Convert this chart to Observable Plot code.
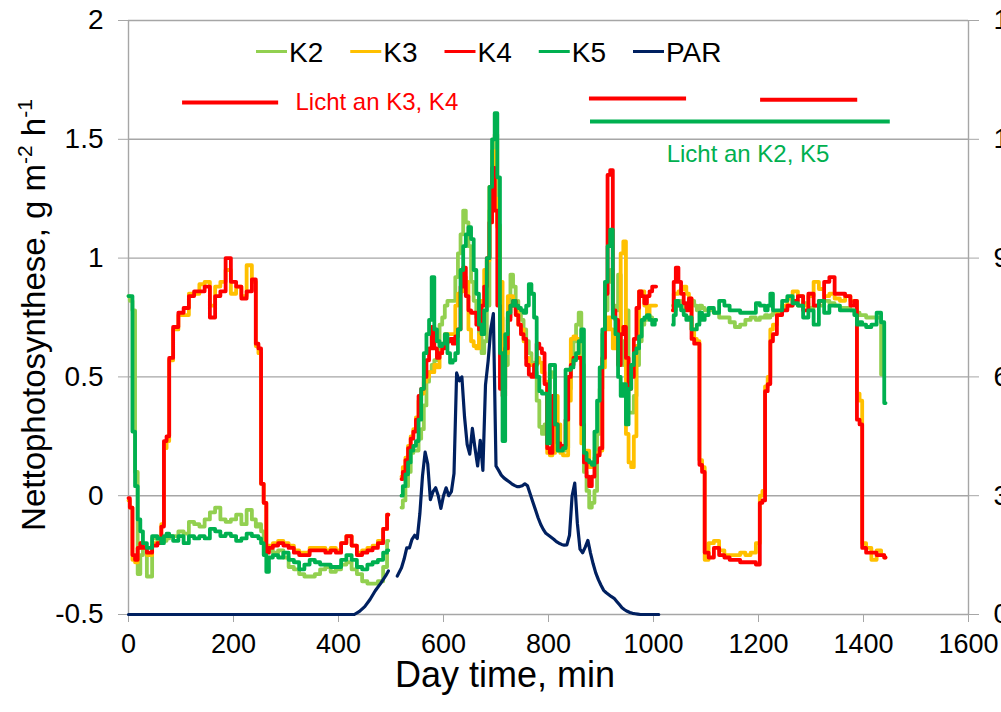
<!DOCTYPE html>
<html><head><meta charset="utf-8">
<script src="https://cdn.jsdelivr.net/npm/d3@7"></script>
<script src="https://cdn.jsdelivr.net/npm/@observablehq/plot@0.6"></script>
<style>
html,body{margin:0;padding:0;overflow:hidden;background:#fff;}
#chart{position:relative;width:1001px;height:712px;}
</style></head><body><div id="chart"></div>
<script>
// sample times (minutes of the day)
const minutes = [
0,5,10,15,20,25,30,40,50,60,
65,70,75,80,90,100,110,120,130,140,
150,160,170,180,190,200,210,220,230,240,
245,250,255,260,265,270,280,290,300,310,
320,330,340,350,360,370,380,390,400,410,
420,430,440,450,460,470,480,490,495,505,
512,
520,525,530,535,540,545,550,555,560,565,
570,575,580,585,590,595,600,605,610,615,
620,625,630,635,640,645,650,655,660,665,
670,675,680,685,690,695,700,705,710,715,
720,725,730,735,740,745,750,755,760,765,
770,775,780,785,790,795,800,805,810,815,
820,825,830,835,840,845,850,855,860,865,
870,875,880,885,890,895,900,905,910,915,
920,925,930,935,940,945,950,955,960,965,
970,975,980,985,990,995,1000,1005,
1010,1020,1030,
1037,1040,1045,1050,1055,1060,1065,1070,1075,1080,1085,1090,1095,1100,
1110,1120,1130,1140,1150,1160,1170,1180,1190,1200,
1205,1210,1215,1220,1225,1230,
1240,1250,1260,1270,1280,1290,1300,1310,1320,1330,1340,1350,1360,1370,1380,
1385,1390,1395,1400,1410,1420,1430,1437,1442
];

const K2 = [
0.84,0.82,0.78,0.1,-0.33,-0.25,-0.22,-0.34,-0.18,-0.2,
-0.18,-0.19,-0.18,-0.17,-0.17,-0.15,-0.16,-0.11,-0.12,-0.13,
-0.1,-0.07,-0.05,-0.1,-0.11,-0.1,-0.08,-0.12,-0.06,-0.1,
-0.13,-0.12,-0.15,-0.2,-0.23,-0.23,-0.24,-0.23,-0.26,-0.3,
-0.31,-0.33,-0.34,-0.34,-0.33,-0.31,-0.3,-0.32,-0.31,-0.29,
-0.28,-0.31,-0.33,-0.36,-0.37,-0.37,-0.36,-0.3,-0.19,null,
null,
-0.05,-0.02,0.04,0.1,0.18,0.19,0.19,0.24,0.28,0.38,
0.48,0.52,0.55,0.57,0.6,0.72,0.75,0.8,0.82,0.82,
0.82,0.92,1.02,1.1,1.2,1.15,1.05,0.9,0.82,0.75,
0.68,0.6,0.65,0.8,1.2,1.45,1.52,1.14,0.75,0.45,
0.55,0.75,0.93,0.88,0.82,0.78,0.74,0.7,0.65,0.6,
0.56,0.52,0.4,0.29,0.26,0.3,0.45,0.52,0.5,0.2,
0.19,0.19,0.19,0.2,0.45,0.55,0.65,0.72,0.77,0.55,
0.1,0.02,-0.05,-0.03,0.02,0.26,0.45,0.68,0.78,0.9,
0.95,0.8,0.78,0.93,0.55,0.65,0.78,0.35,0.35,0.42,
0.55,0.65,0.72,0.74,0.75,0.75,0.74,0.74,
null,null,null,
0.8,0.78,0.8,0.82,0.8,0.78,0.8,0.82,0.82,0.8,0.78,0.8,0.79,0.78,
0.78,0.77,0.75,0.75,0.73,0.71,0.72,0.74,0.75,0.74,
0.75,0.75,0.76,0.75,0.76,0.77,
0.77,0.79,0.8,0.82,0.8,0.81,0.79,0.8,0.8,0.82,0.81,0.8,0.79,0.79,0.78,
0.78,0.77,0.76,0.76,0.75,0.75,0.75,0.51,null
];

const K3 = [
-0.02,-0.05,-0.27,-0.28,-0.22,-0.2,-0.22,-0.25,-0.2,-0.2,
-0.12,0.2,0.23,0.57,0.7,0.76,0.76,0.85,0.85,0.89,
0.9,0.8,0.88,0.9,0.95,0.85,0.88,0.84,0.97,0.9,
0.63,0.6,0.05,-0.03,-0.23,-0.21,-0.2,-0.19,-0.2,-0.21,
-0.23,-0.24,-0.24,-0.22,-0.22,-0.22,-0.23,-0.22,-0.23,-0.2,
-0.17,-0.21,-0.24,-0.23,-0.22,-0.21,-0.19,-0.14,-0.08,null,
null,
0.08,0.12,0.16,0.21,0.25,0.28,0.33,0.4,0.43,0.48,
0.5,0.52,0.52,0.55,0.54,0.6,0.64,0.68,0.68,0.68,
0.68,0.8,0.85,0.86,0.92,0.9,0.7,0.65,0.63,0.62,
0.68,0.82,0.95,0.99,1.3,1.45,1.25,1.13,0.9,0.5,
0.6,0.84,0.84,0.82,0.78,0.72,0.7,0.65,0.58,0.55,
0.55,0.55,0.58,0.56,0.52,0.48,0.18,0.17,0.18,0.42,
0.3,0.18,0.17,0.17,0.4,0.66,0.67,0.66,0.58,0.22,
0.19,0.19,0.12,0.14,0.16,0.18,0.19,0.54,0.7,0.75,
0.7,0.62,0.7,0.66,1.02,1.07,0.26,0.14,0.12,0.25,
0.63,0.86,0.86,0.8,0.76,0.8,0.8,0.8,
null,null,null,
0.78,0.85,0.85,0.86,0.87,0.88,0.85,0.83,0.7,0.66,0.65,0.15,0.12,-0.27,
-0.2,-0.19,-0.23,-0.25,-0.25,-0.25,-0.24,-0.25,-0.24,-0.2,
0.0,0.02,0.46,0.5,0.7,0.72,
0.77,0.8,0.83,0.86,0.84,0.8,0.84,0.9,0.87,0.84,0.85,0.83,0.82,0.84,0.82,
0.82,0.43,0.4,-0.2,-0.22,-0.27,-0.23,-0.25,-0.26
];

const K4 = [
-0.01,-0.05,-0.25,-0.27,-0.22,-0.2,-0.22,-0.24,-0.21,-0.2,
-0.13,0.23,0.25,0.58,0.71,0.77,0.79,0.84,0.86,0.86,
0.88,0.75,0.84,0.86,1.0,0.9,0.88,0.83,0.86,0.91,
0.64,0.62,0.05,-0.03,-0.24,-0.22,-0.21,-0.2,-0.21,-0.22,
-0.24,-0.25,-0.25,-0.23,-0.23,-0.23,-0.24,-0.23,-0.24,-0.2,
-0.17,-0.21,-0.25,-0.24,-0.23,-0.22,-0.2,-0.14,-0.08,null,
null,
0.07,0.1,0.15,0.2,0.24,0.27,0.32,0.42,0.45,0.5,
0.57,0.62,0.71,0.62,0.58,0.6,0.62,0.64,0.65,0.66,
0.64,0.67,0.7,0.88,0.96,0.84,0.78,0.77,0.77,0.72,
0.7,0.8,0.88,1.0,1.15,1.38,1.2,0.8,0.45,0.42,
0.62,0.74,0.8,0.82,0.76,0.72,0.68,0.66,0.55,0.51,
0.5,0.55,0.64,0.62,0.6,0.47,0.2,0.18,0.42,0.3,
0.22,0.2,0.21,0.32,0.5,0.55,0.58,0.58,0.58,0.3,
0.14,0.08,0.04,0.08,0.14,0.17,0.2,0.58,0.85,1.35,
1.37,0.78,0.74,0.55,0.68,0.71,0.58,0.45,0.5,0.66,
0.79,0.86,0.84,0.81,0.84,0.86,0.88,0.88,
null,null,null,
0.78,0.9,0.96,0.9,0.85,0.81,0.78,0.83,0.66,0.64,0.64,0.13,0.1,-0.24,
-0.26,-0.22,-0.25,-0.26,-0.27,-0.27,-0.28,-0.28,-0.28,-0.29,
-0.03,-0.02,0.44,0.47,0.65,0.68,
0.76,0.78,0.8,0.82,0.84,0.78,0.85,0.8,0.82,0.9,0.92,0.85,0.85,0.84,0.8,
0.82,0.32,0.3,-0.22,-0.24,-0.24,-0.25,-0.25,-0.26
];

const K5 = [
0.84,0.84,0.27,0.04,-0.1,-0.15,-0.2,-0.22,-0.17,-0.18,
-0.2,-0.17,-0.16,-0.17,-0.19,-0.17,-0.2,-0.17,-0.18,-0.17,
-0.18,-0.14,-0.15,-0.17,-0.16,-0.17,-0.19,-0.18,-0.16,-0.17,
-0.17,-0.18,-0.2,-0.25,-0.32,-0.26,-0.25,-0.26,-0.24,-0.27,
-0.28,-0.31,-0.29,-0.27,-0.28,-0.29,-0.29,-0.3,-0.3,-0.27,
-0.25,-0.27,-0.3,-0.31,-0.29,-0.28,-0.27,-0.24,-0.23,null,
null,
0.0,0.04,0.09,0.14,0.19,0.21,0.23,0.32,0.45,0.6,
0.68,0.74,0.92,0.7,0.65,0.63,0.64,0.68,0.6,0.56,
0.57,0.6,0.7,0.95,1.05,1.1,1.13,1.08,0.95,0.85,
0.72,0.68,0.78,1.0,1.3,1.5,1.61,1.34,0.6,0.23,
0.68,0.77,0.8,0.82,0.8,0.79,0.78,0.77,0.8,0.89,
0.85,0.75,0.5,0.44,0.43,0.43,0.22,0.55,0.55,0.3,
0.19,0.19,0.2,0.53,0.53,0.54,0.57,0.6,0.65,0.7,
0.18,0.15,0.14,0.13,0.27,0.4,0.54,0.7,0.9,1.05,
1.12,0.75,0.68,0.5,0.42,0.47,0.3,0.45,0.55,0.6,
0.62,0.67,0.74,0.75,0.76,0.74,0.72,0.74,
null,null,null,
0.72,0.76,0.82,0.8,0.78,0.76,0.74,0.75,0.7,0.7,0.72,0.77,0.74,0.76,
0.79,0.77,0.82,0.8,0.78,0.78,0.77,0.77,0.77,0.81,
0.8,0.8,0.78,0.8,0.85,0.78,
0.78,0.82,0.84,0.81,0.8,0.75,0.78,0.72,0.82,0.77,0.8,0.8,0.78,0.78,0.78,
0.76,0.72,0.73,0.72,0.71,0.72,0.77,0.73,0.39
];

// PAR (right axis), recorded until ~1010 min
const PAR = [
0,0,0,0,0,0,0,0,0,0,
0,0,0,0,0,0,0,0,0,0,
0,0,0,0,0,0,0,0,0,0,
0,0,0,0,0,0,0,0,0,0,
0,0,0,0,0,0,0,0,0,0,
0,0,8,20,38,60,78,98,110,null,
97,
118,140,168,168,190,200,192,255,350,410,
380,290,310,320,300,268,300,320,300,310,
356,610,590,600,500,430,405,470,420,375,
440,364,580,640,720,760,375,364,352,345,
340,335,330,326,323,323,325,330,325,305,
285,265,245,228,215,205,200,195,190,184,
180,177,175,176,200,300,332,230,165,156,
170,187,155,128,105,88,74,61,55,50,
45,41,33,25,17,12,8,5,3,2,
1,0,0,0,0,0,0,0,
0
];

const seriesNames = ["K2", "K3", "K4", "K5", "PAR"];
const seriesColors = ["#92D050", "#FFC000", "#FF0000", "#00B050", "#002060"];
const xTicks = [0, 200, 400, 600, 800, 1000, 1200, 1400, 1600];
const yTicks = [-0.5, 0, 0.5, 1, 1.5, 2];
const yTickLabels = ["-0.5", "0", "0.5", "1", "1.5", "2"];
const parTickLabels = ["0", "300", "600", "900", "1200", "1500"];
// light-on periods (start, end minute)
const lightK3K4 = [[103, 286], [878, 1063], [1204, 1389]];
const lightK2K5 = [[880, 1451]];

[K2, K3, K4, K5].forEach((a, i) => {
  if (a.length !== minutes.length) throw new Error("length mismatch " + seriesNames[i] + " " + a.length + " vs " + minutes.length);
});

const FONT = "'Liberation Sans', Arial, sans-serif";
const par2y = d3.scaleLinear([0, 1500], [-0.5, 2]);
const rows = (vals) => minutes.map((t, i) => ({t, v: vals[i] == null ? NaN : vals[i]}));
const grid = "#a6a6a6";

const plot = Plot.plot({
  width: 1001, height: 712,
  marginLeft: 128, marginRight: 33, marginTop: 20, marginBottom: 98,
  style: {fontFamily: FONT, background: "white", color: "black"},
  x: {domain: [0, 1600]},
  y: {domain: [-0.5, 2]},
  marks: [
    Plot.ruleY(yTicks, {stroke: grid, strokeWidth: 1.4}),
    Plot.ruleX([0, 1600], {stroke: grid, strokeWidth: 1.4}),
    Plot.axisY(yTicks, {anchor: "left", tickSize: 10, tickPadding: 15, fontSize: 28, stroke: grid, fill: "black", label: null,
      tickFormat: d => yTickLabels[yTicks.indexOf(d)]}),
    Plot.axisY(yTicks, {anchor: "right", tickSize: 10, tickPadding: 15, fontSize: 28, stroke: grid, fill: "black", label: null,
      tickFormat: d => parTickLabels[yTicks.indexOf(d)]}),
    Plot.axisX(xTicks, {anchor: "bottom", tickSize: 8, tickPadding: 11, fontSize: 27, stroke: grid, fill: "black", label: null,
      tickFormat: d => String(d)}),
    Plot.line(rows(K2), {x: "t", y: "v", stroke: seriesColors[0], strokeWidth: 3.8, curve: "step"}),
    Plot.line(rows(K3), {x: "t", y: "v", stroke: seriesColors[1], strokeWidth: 3.8, curve: "step"}),
    Plot.line(rows(K4), {x: "t", y: "v", stroke: seriesColors[2], strokeWidth: 3.8, curve: "step"}),
    Plot.line(rows(K5), {x: "t", y: "v", stroke: seriesColors[3], strokeWidth: 3.8, curve: "step"}),
    Plot.line(rows(PAR), {x: "t", y: d => isNaN(d.v) ? NaN : par2y(d.v), stroke: seriesColors[4], strokeWidth: 3.2}),
    Plot.ruleY(lightK3K4, {x1: d => d[0], x2: d => d[1], y: (d, i) => [1.655, 1.672, 1.666][i], stroke: "#FF0000", strokeWidth: 4}),
    Plot.ruleY(lightK2K5, {x1: d => d[0], x2: d => d[1], y: () => 1.575, stroke: "#00B050", strokeWidth: 4}),
    Plot.text(["Licht an K3, K4"], {x: () => 318, y: () => 1.655, text: d => d, textAnchor: "start", fill: "#FF0000", fontSize: 24}),
    Plot.text(["Licht an K2, K5"], {x: () => 1025, y: () => 1.438, text: d => d, textAnchor: "start", fill: "#00B050", fontSize: 24})
  ]
});
document.getElementById("chart").append(plot);

const svg = d3.select(plot);
// legend
const lg = svg.append("g").attr("font-family", FONT).attr("font-size", 28).attr("text-anchor", "start");
let lx = 256;
seriesNames.forEach((name, i) => {
  lg.append("line").attr("x1", lx).attr("x2", lx + 31).attr("y1", 51.5).attr("y2", 51.5)
    .attr("stroke", seriesColors[i]).attr("stroke-width", 3);
  const t = lg.append("text").attr("x", lx + 33).attr("y", 62).attr("fill", "black")
    .attr("text-anchor", "start").text(name);
  lx += 33 + t.node().getComputedTextLength() + 27;
});
// y title
const yt = svg.append("text").attr("transform", "translate(45,315) rotate(-90)")
  .attr("text-anchor", "middle").attr("font-family", FONT).attr("font-size", 33).attr("fill", "black");
yt.append("tspan").text("Nettophotosynthese, g m");
yt.append("tspan").attr("font-size", 21).attr("dy", -13).text("-2");
yt.append("tspan").attr("font-size", 33).attr("dy", 13).text(" h");
yt.append("tspan").attr("font-size", 21).attr("dy", -13).text("-1");
// x title
svg.append("text").attr("x", 505).attr("y", 687).attr("text-anchor", "middle")
  .attr("font-family", FONT).attr("font-size", 36).attr("fill", "black").text("Day time, min");
</script>
</body></html>
